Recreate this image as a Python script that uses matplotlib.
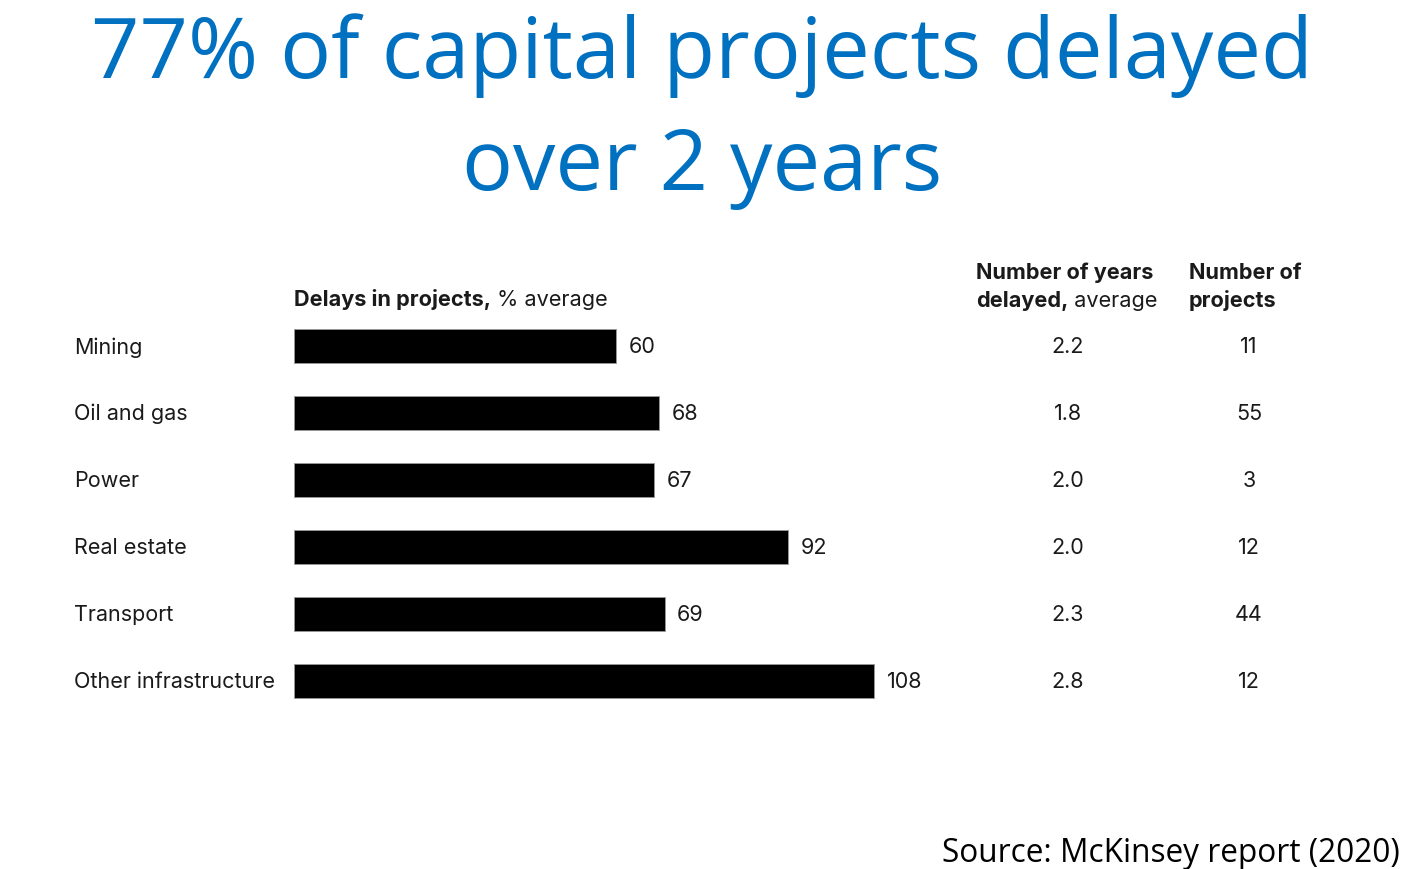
import matplotlib.pyplot as plt
from matplotlib.transforms import blended_transform_factory

categories = ["Mining", "Oil and gas", "Power", "Real estate", "Transport", "Other infrastructure"]
delay_pct = [60, 68, 67, 92, 69, 108]
years_delayed = ["2.2", "1.8", "2.0", "2.0", "2.3", "2.8"]
n_projects = ["11", "55", "3", "12", "44", "12"]

W, H = 1404, 870
BLUE = "#0070C0"
INK = "#1a1a1a"

fig = plt.figure(figsize=(W / 100, H / 100), dpi=100)
fig.patch.set_facecolor("white")

# bar area: x from 294px, 5.37 px per %, rows from 314 to 715 px
x0, px_per = 294, 5.37
xmax = 120
ax = fig.add_axes([x0 / W, 1 - 715 / H, xmax * px_per / W, (715 - 314) / H])
ax.set_xlim(0, xmax)
ax.set_ylim(len(categories) - 0.5, -0.5)
ax.axis("off")

rows = list(range(len(categories)))
ax.barh(rows, delay_pct, height=0.51, color="black", edgecolor="#999999", linewidth=0.6)

body = dict(family=["Inter", "DejaVu Sans"], color=INK)
fs = 15.5
for r, v in zip(rows, delay_pct):
    ax.annotate(str(v), (v, r), xytext=(9, 0), textcoords="offset points",
                va="center", ha="left", fontsize=fs, **body)

tr = blended_transform_factory(fig.transFigure, ax.transData)
for r, name in zip(rows, categories):
    ax.text(74 / W, r, name, transform=tr, va="center", ha="left", fontsize=fs, **body)
for r, v in zip(rows, years_delayed):
    ax.text(1068 / W, r, v, transform=tr, va="center", ha="center", fontsize=fs, **body)
for r, v in zip(rows, n_projects):
    ax.text(1249 / W, r, v, transform=tr, va="center", ha="center", fontsize=fs, **body)


def header(x, y, bold, regular=None):
    # bold lead-in followed by regular text on the same baseline
    t = fig.text(x / W, 1 - y / H, bold, fontsize=15.6, fontweight="bold", ha="left", va="baseline", **body)
    if regular:
        fig.canvas.draw()
        bb = t.get_window_extent()
        fig.text(bb.x1 / W, 1 - y / H, " " + regular, fontsize=15.6, ha="left", va="baseline", **body)


header(294, 306, "Delays in projects,", "% average")
header(976, 279, "Number of years")
header(976, 307, "delayed,", "average")
header(1189, 279, "Number of")
header(1189, 307, "projects")

title_font = ["Open Sans", "DejaVu Sans"]
fig.text(0.5, 1 - 78 / H, "77% of capital projects delayed", ha="center", va="baseline",
         fontsize=61, color=BLUE, family=title_font)
fig.text(0.5, 1 - 190 / H, "over 2 years", ha="center", va="baseline",
         fontsize=61, color=BLUE, family=title_font)
fig.text(1400 / W, 1 - 862 / H, "Source: McKinsey report (2020)", ha="right", va="baseline",
         fontsize=22.8, color="black", family=title_font)

fig.savefig("out.png", dpi=100, facecolor="white")
